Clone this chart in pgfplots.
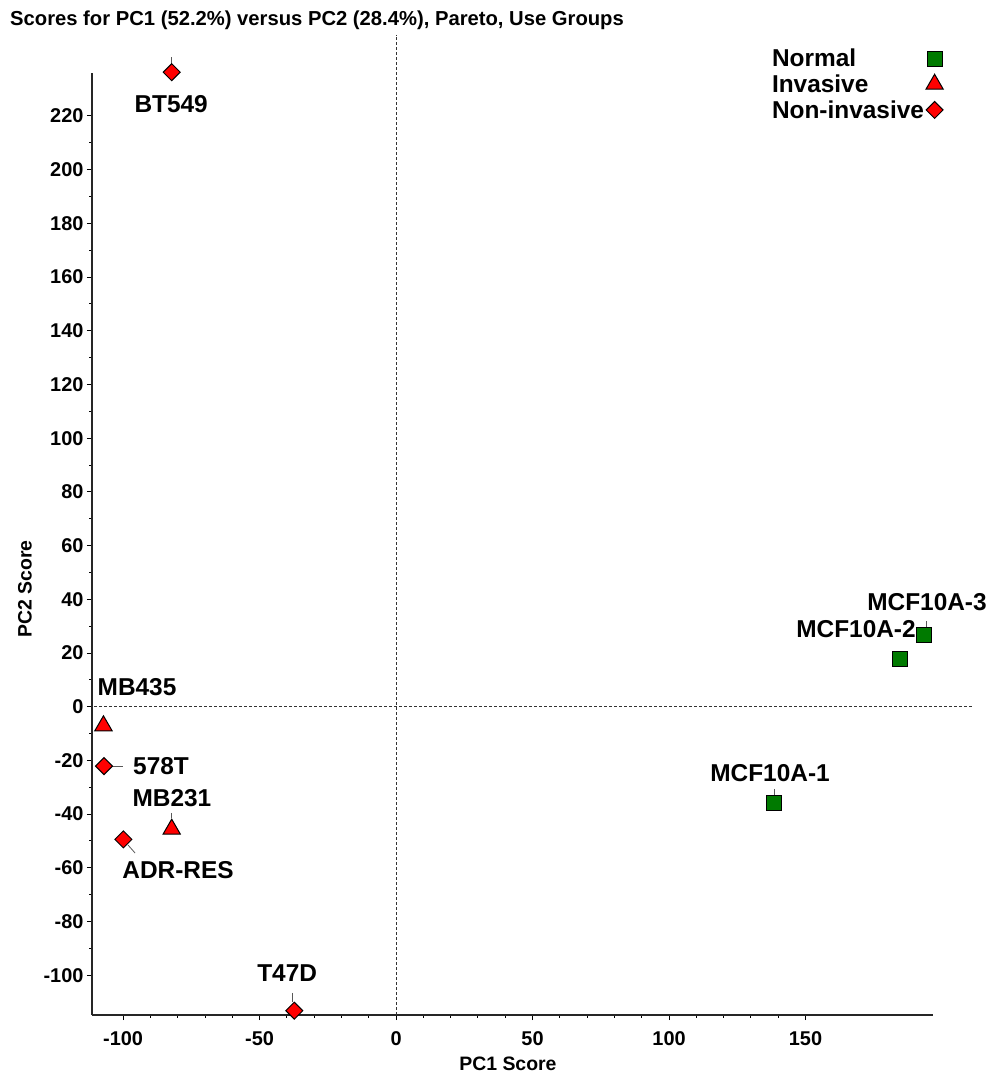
\documentclass[border=0pt]{standalone}
\usepackage{fontspec}
\setmainfont{Liberation Sans}
\usepackage{pgfplots}
\pgfplotsset{compat=1.18}
\definecolor{normalgreen}{RGB}{0,122,0}
\newcommand{\lab}{\bfseries\fontsize{24.5}{27}\selectfont}
\begin{document}
\begin{tikzpicture}
\useasboundingbox (-92bp,-60bp) rectangle (910bp,1015bp);
\begin{axis}[
 at={(0,0)}, anchor=south west,
 scale only axis, width=841bp, height=942bp,
 xmin=-111.4, xmax=196.7, ymin=-114.8, ymax=236,
 axis x line=bottom, axis y line=left,
 axis line style={-, line width=1.6bp, black!85},
 xtick={-100,-50,0,50,100,150},
 xticklabels={-100,-50,0,50,100,150},
 minor x tick num=4,
 ytick={-100,-80,...,220},
 yticklabels={-100,-80,-60,-40,-20,0,20,40,60,80,100,120,140,160,180,200,220},
 minor y tick num=1,
 tick align=outside,
 major tick length=5bp, minor tick length=2.5bp,
 tick style={black, line width=1bp},
 ticklabel style={font=\bfseries\fontsize{20}{22}\selectfont},
 xticklabel style={yshift=-8bp},
 clip=false,
 title={Scores for PC1 (52.2\%) versus PC2 (28.4\%), Pareto, Use Groups},
 title style={at={(axis description cs:-0.0975,1.0497)}, anchor=west, font=\bfseries\fontsize{20.3}{22}\selectfont, inner sep=0pt},
 xlabel={PC1 Score}, ylabel={PC2 Score},
 xlabel style={at={(axis description cs:0.4946,-0.052)}, anchor=center, font=\bfseries\fontsize{19.5}{21}\selectfont, inner sep=0pt},
 ylabel style={at={(axis description cs:-0.0797,0.4522)}, anchor=center, font=\bfseries\fontsize{19.5}{21}\selectfont, inner sep=0pt},
 legend style={at={(axis description cs:0.806,1.0278)}, anchor=north west, draw=none, fill=none, font=\bfseries\fontsize{24.5}{27}\selectfont, row sep=2.5bp, inner sep=0pt},
 legend cell align=left,
 legend plot pos=right,
]
\draw[dash pattern=on 3bp off 2bp, line width=0.9bp, black!80] (axis cs:0,-114.8) -- (axis cs:0,250.2);
\draw[dash pattern=on 3bp off 2bp, line width=0.9bp, black!80] (axis cs:-110.5,0) -- (axis cs:211.4,0);

% leader lines from labels to points
\draw[gray!70!black, line width=0.8bp] (axis cs:-82.2,239.4) -- (axis cs:-82.2,242);
\draw[gray!70!black, line width=0.8bp] (axis cs:-38,-106.6) -- (axis cs:-38,-110.0);
\draw[gray!70!black, line width=0.8bp] (axis cs:-82.2,-39.5) -- (axis cs:-82.2,-41.4);
\draw[gray!70!black, line width=0.8bp] (axis cs:138.6,-30.6) -- (axis cs:138.6,-32.9);
\draw[gray!70!black, line width=0.8bp] (axis cs:194.3,29.7) -- (axis cs:194.3,31.9);
\draw[gray!70!black, line width=0.8bp] (axis cs:-104,-22.1) -- (axis cs:-100.1,-22.1);
\draw[gray!70!black, line width=0.8bp] (axis cs:-98.2,-51.5) -- (axis cs:-95.6,-54.5);

\addplot[only marks, mark=square*, mark size=7.5bp, mark options={fill=normalgreen, draw=black, line width=1bp}] coordinates {(138.6,-36.0) (184.6,17.8) (193.5,26.7)};
\addlegendentry{Normal}
\addplot[only marks, mark=triangle*, mark size=10bp, mark options={fill=red, draw=black, line width=1bp}] coordinates {(-107.2,-7.1) (-82.2,-45.6)};
\addlegendentry{Invasive}
\addplot[only marks, mark=square*, mark size=6bp, mark options={rotate=45, fill=red, draw=black, line width=1bp}] coordinates {(-82.2,236.3) (-107,-22.1) (-99.9,-49.4) (-37.3,-113.2)};
\addlegendentry{Non-invasive}

\node[font=\lab] at (axis cs:-82.4,224.4) {BT549};
\node[font=\lab] at (axis cs:-94.9,7.3) {MB435};
\node[font=\lab] at (axis cs:-86.1,-22.1) {578T};
\node[font=\lab] at (axis cs:-82.1,-34.0) {MB231};
\node[font=\lab] at (axis cs:-79.9,-60.8) {ADR-RES};
\node[font=\lab] at (axis cs:-39.9,-99.2) {T47D};
\node[font=\lab] at (axis cs:137.0,-24.7) {MCF10A-1};
\node[font=\lab] at (axis cs:168.5,28.9) {MCF10A-2};
\node[font=\lab] at (axis cs:194.5,39.0) {MCF10A-3};
\end{axis}
\end{tikzpicture}
\end{document}
